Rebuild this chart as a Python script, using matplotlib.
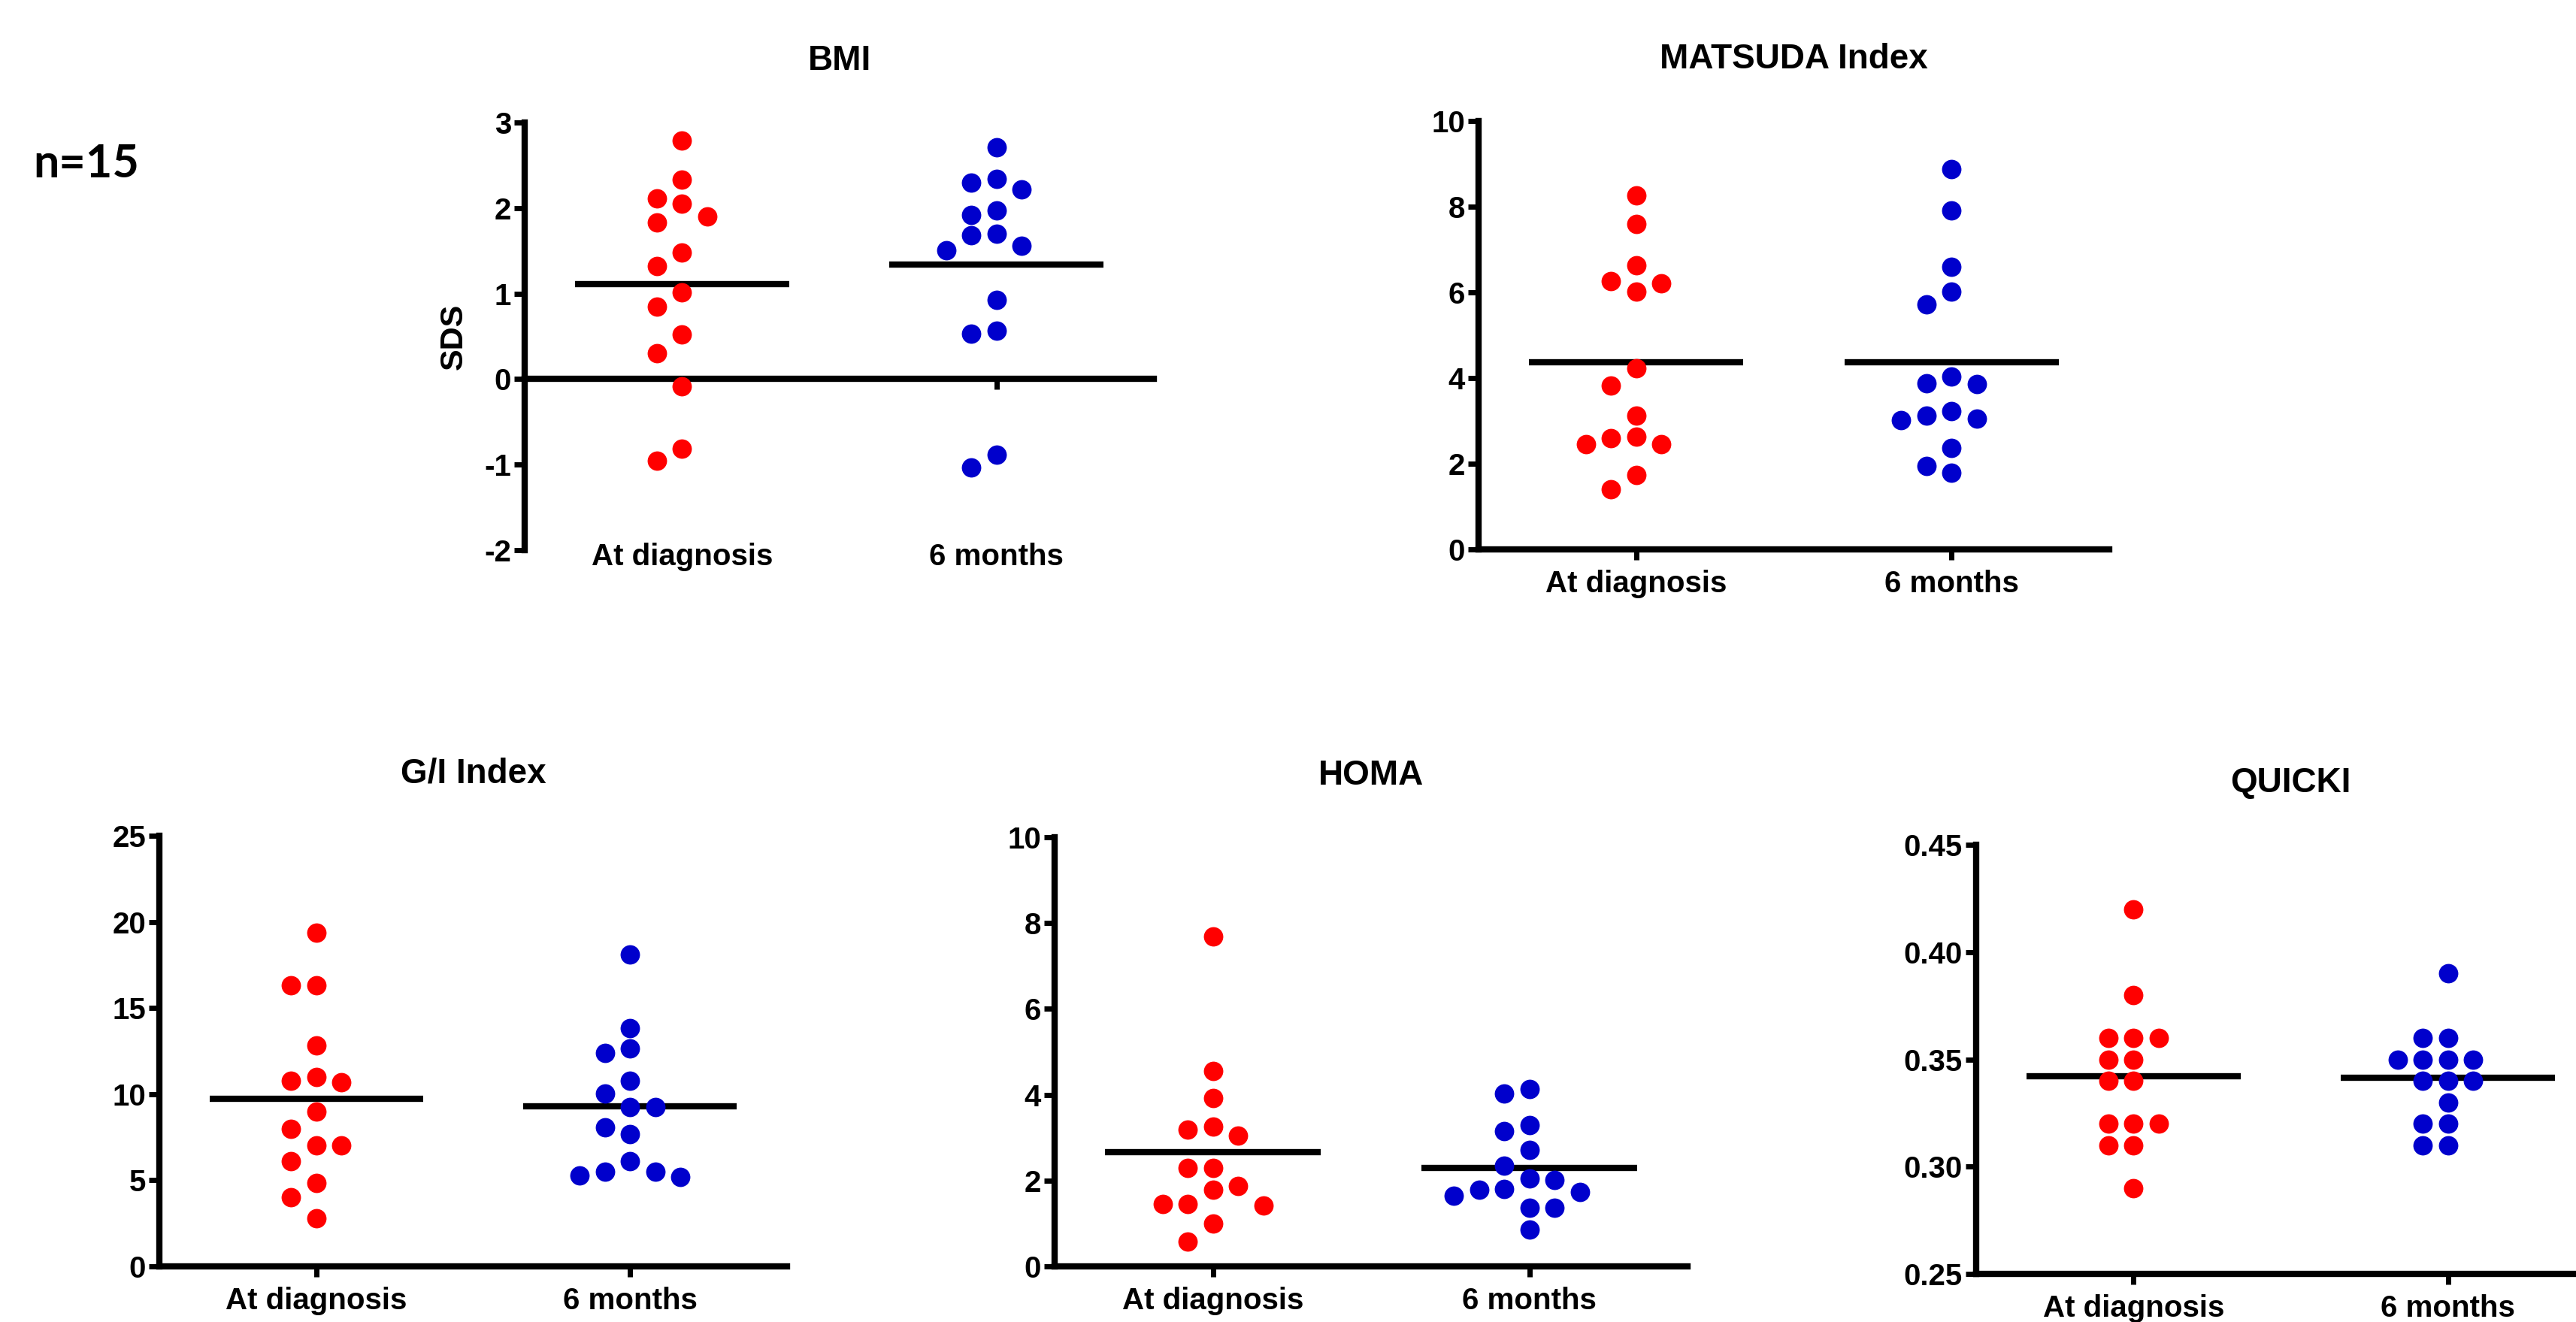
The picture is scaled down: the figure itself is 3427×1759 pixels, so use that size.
import matplotlib
matplotlib.use("Agg")
import matplotlib.pyplot as plt
import matplotlib.transforms as mtransforms
import numpy as np

plt.rcParams['font.family'] = ['Liberation Sans', 'DejaVu Sans']
plt.rcParams['font.weight'] = 'bold'

categories = ["At diagnosis", "6 months"]

bmi_diag = [2.79, 2.33, 2.11, 2.05, 1.90, 1.83, 1.48, 1.32, 1.01, 0.85, 0.52, 0.30, -0.08, -0.81, -0.95]
bmi_6m = [2.71, 2.34, 2.30, 2.22, 1.97, 1.92, 1.70, 1.68, 1.56, 1.51, 0.93, 0.57, 0.53, -0.88, -1.03]
matsuda_diag = [8.27, 7.60, 6.63, 6.26, 6.21, 6.01, 4.22, 3.82, 3.13, 2.64, 2.60, 2.45, 2.45, 1.73, 1.41]
matsuda_6m = [8.88, 7.91, 6.59, 6.02, 5.72, 4.03, 3.88, 3.86, 3.23, 3.12, 3.06, 3.02, 2.36, 1.95, 1.79]
gi_diag = [19.38, 16.31, 16.31, 12.84, 11.00, 10.76, 10.67, 8.98, 7.99, 7.02, 7.02, 6.09, 4.86, 4.02, 2.81]
gi_6m = [18.12, 13.85, 12.64, 12.37, 10.78, 10.04, 9.24, 9.24, 8.08, 7.67, 6.09, 5.50, 5.50, 5.29, 5.18]
homa_diag = [7.69, 4.56, 3.92, 3.26, 3.19, 3.05, 2.29, 2.29, 1.88, 1.78, 1.46, 1.46, 1.42, 1.00, 0.58]
homa_6m = [4.13, 4.03, 3.29, 3.16, 2.71, 2.35, 2.05, 2.02, 1.80, 1.78, 1.74, 1.65, 1.37, 1.37, 0.85]
quicki_diag = [0.42, 0.38, 0.36, 0.36, 0.36, 0.35, 0.35, 0.34, 0.34, 0.32, 0.32, 0.32, 0.31, 0.31, 0.29]
quicki_6m = [0.39, 0.36, 0.36, 0.35, 0.35, 0.35, 0.35, 0.34, 0.34, 0.34, 0.33, 0.32, 0.32, 0.31, 0.31]

bmi_ticks = [-2, -1, 0, 1, 2, 3]
matsuda_ticks = [0, 2, 4, 6, 8, 10]
gi_ticks = [0, 5, 10, 15, 20, 25]
homa_ticks = [0, 2, 4, 6, 8, 10]
quicki_ticks = [0.25, 0.30, 0.35, 0.40, 0.45]
quicki_ticklabels = ["0.25", "0.30", "0.35", "0.40", "0.45"]

W, H = 3427, 1759
fig = plt.figure(figsize=(W / 100, H / 100), dpi=100)

RED = '#FF0000'
BLUE = '#0000CC'
LW = 6
FS = 29

def rect(left, top, right, bottom):
    return [left / W, 1 - bottom / H, (right - left) / W, (bottom - top) / H]

panels = [
    dict(title="BMI", d=(bmi_diag, bmi_6m), ticks=bmi_ticks, labels=[str(t) for t in bmi_ticks],
         rect=rect(698, 163, 1535, 732), zero=True, ylabel="SDS", lab_off=-20),
    dict(title="MATSUDA Index", d=(matsuda_diag, matsuda_6m), ticks=matsuda_ticks,
         labels=[str(t) for t in matsuda_ticks], rect=rect(1967, 161, 2806, 731), zero=False, ylabel=None, lab_off=-57),
    dict(title="G/I Index", d=(gi_diag, gi_6m), ticks=gi_ticks, labels=[str(t) for t in gi_ticks],
         rect=rect(212, 1112, 1047, 1685), zero=False, ylabel=None, lab_off=-57),
    dict(title="HOMA", d=(homa_diag, homa_6m), ticks=homa_ticks, labels=[str(t) for t in homa_ticks],
         rect=rect(1403, 1114, 2245, 1685), zero=False, ylabel=None, lab_off=-57),
    dict(title="QUICKI", d=(quicki_diag, quicki_6m), ticks=quicki_ticks, labels=quicki_ticklabels,
         rect=rect(2629, 1124, 3466, 1695), zero=False, ylabel=None, lab_off=-57),
]


def swarm_slots(ax, values, xc, thr_px):
    ys = ax.transData.transform(np.column_stack([np.full(len(values), xc), values]))[:, 1]
    cand = [0, -1, 1, -2, 2, -3, 3, -4, 4, -5, 5]
    placed = []
    slots = []
    for y in ys:
        chosen = cand[-1]
        for c in cand:
            if all(not (s == c and abs(y - py) < thr_px) for s, py in placed):
                chosen = c
                break
        placed.append((chosen, y))
        slots.append(chosen)
    return np.array(slots, dtype=float)


for p in panels:
    ax = fig.add_axes(p['rect'])
    ax.set_xlim(0.5, 2.5)
    ax.set_ylim(p['ticks'][0], p['ticks'][-1])
    ax.set_facecolor('none')
    for s in ['top', 'right']:
        ax.spines[s].set_visible(False)
    for s in ['left', 'bottom']:
        ax.spines[s].set_linewidth(LW)
        ax.spines[s].set_capstyle('projecting')
    if p['zero']:
        ax.spines['bottom'].set_position(('data', 0))
    ax.set_yticks(p['ticks'])
    ax.set_yticklabels(p['labels'], fontsize=FS, fontweight='bold')
    ax.set_xticks([1, 2])
    ax.set_xticklabels([])
    ax.tick_params(axis='both', direction='out', length=10, width=5, pad=3)

    px_per_unit = ax.transData.transform([[2, 0]])[0, 0] - ax.transData.transform([[1, 0]])[0, 0]
    step = 33.5 / px_per_unit
    for i, (vals, col) in enumerate(zip(p['d'], [RED, BLUE])):
        xc = i + 1
        slots = swarm_slots(ax, vals, xc, 27)
        ax.plot(xc + slots * step, vals, 'o', color=col, markersize=18.6, markeredgewidth=0,
                linestyle='none', zorder=4, clip_on=False)
        m = np.mean(vals)
        ax.plot([xc - 0.34, xc + 0.34], [m, m], color='black', lw=LW, solid_capstyle='butt', zorder=3)

    btrans = mtransforms.blended_transform_factory(ax.transData, ax.transAxes)
    ltrans = mtransforms.offset_copy(btrans, fig=fig, x=0, y=p['lab_off'] * 0.72, units='points')
    for i, c in enumerate(categories):
        ax.text(i + 1, 0, c, transform=ltrans, ha='center', va='baseline', fontsize=FS, fontweight='bold')

    ttrans = mtransforms.offset_copy(ax.transAxes, fig=fig, x=0, y=70 * 0.72, units='points')
    ax.text(0.5, 1, p['title'], transform=ttrans, ha='center', va='baseline', fontsize=33, fontweight='bold')

    if p['ylabel']:
        ax.text(-0.112, 0.5, p['ylabel'], transform=ax.transAxes, rotation=90, ha='center', va='center',
                fontsize=31, fontweight='bold')

fig.text(44 / W, 1 - 236 / H, "n=15", fontsize=44, fontweight='bold', family=['Lato', 'DejaVu Sans'],
         ha='left', va='baseline')

fig.savefig("out.png", dpi=100, facecolor='white')
